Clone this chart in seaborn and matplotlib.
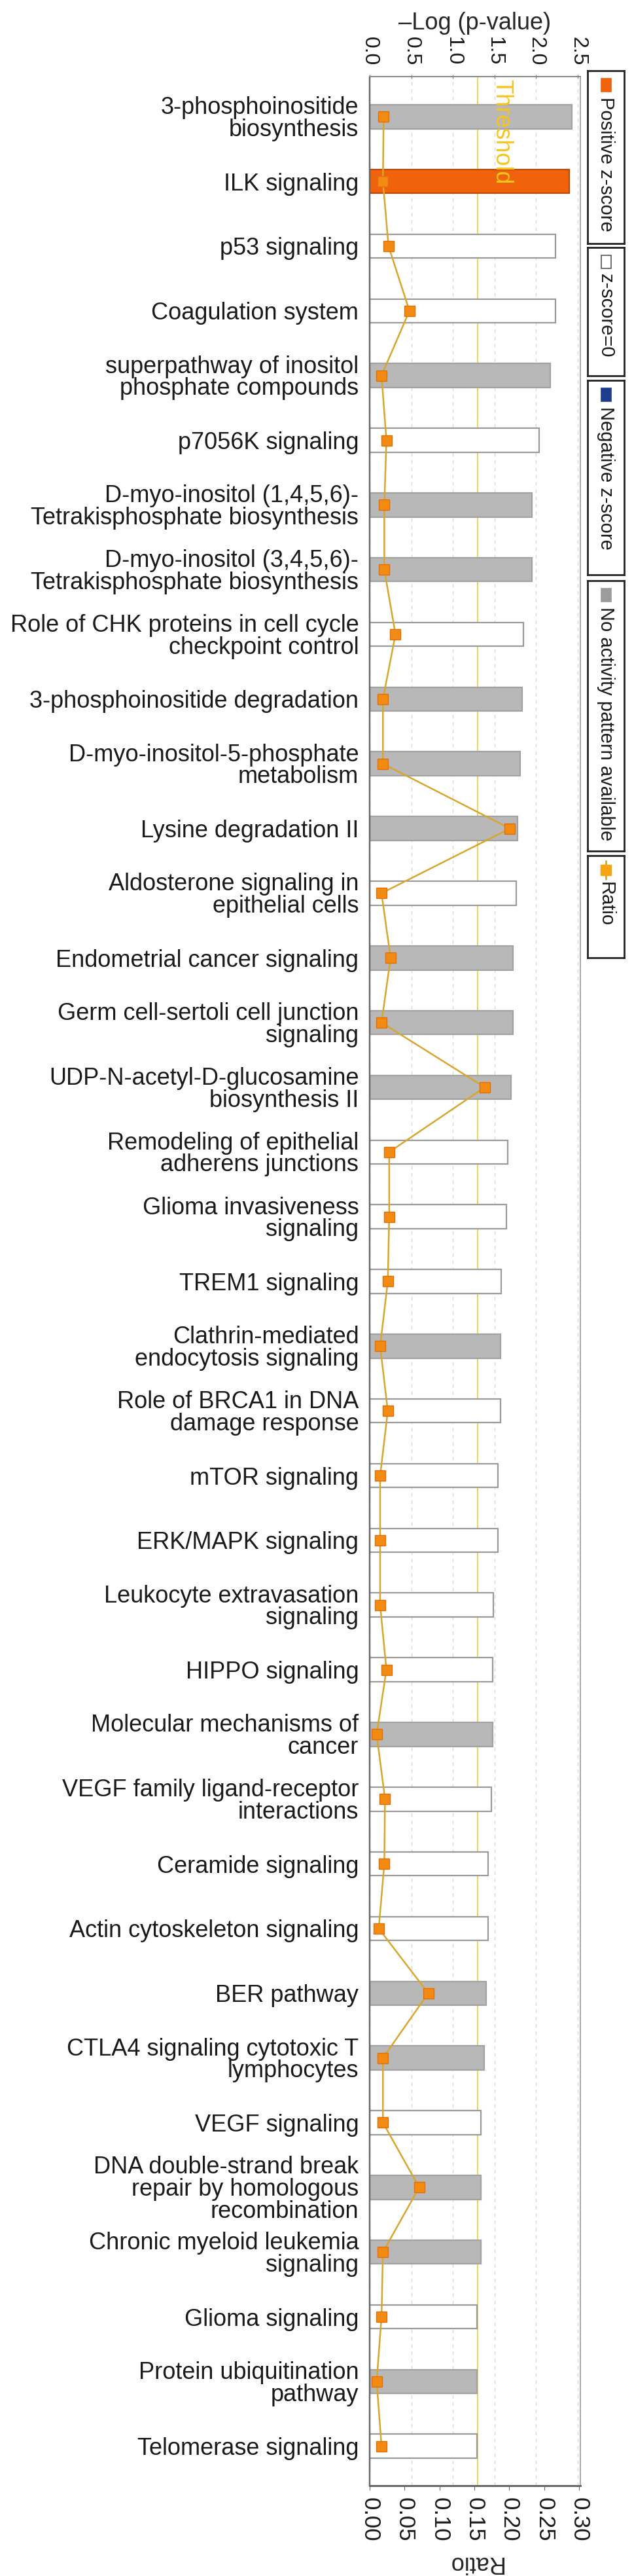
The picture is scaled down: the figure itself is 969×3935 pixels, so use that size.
import matplotlib
matplotlib.use('Agg')
import matplotlib.pyplot as plt
import matplotlib.colors as mcolors
from matplotlib.patches import Rectangle
import seaborn as sns
import pandas as pd
import numpy as np

# canonical pathways, top to bottom
pathways = [
    "3-phosphoinositide\nbiosynthesis",
    "ILK signaling",
    "p53 signaling",
    "Coagulation system",
    "superpathway of inositol\nphosphate compounds",
    "p7056K signaling",
    "D-myo-inositol (1,4,5,6)-\nTetrakisphosphate biosynthesis",
    "D-myo-inositol (3,4,5,6)-\nTetrakisphosphate biosynthesis",
    "Role of CHK proteins in cell cycle\ncheckpoint control",
    "3-phosphoinositide degradation",
    "D-myo-inositol-5-phosphate\nmetabolism",
    "Lysine degradation II",
    "Aldosterone signaling in\nepithelial cells",
    "Endometrial cancer signaling",
    "Germ cell-sertoli cell junction\nsignaling",
    "UDP-N-acetyl-D-glucosamine\nbiosynthesis II",
    "Remodeling of epithelial\nadherens junctions",
    "Glioma invasiveness\nsignaling",
    "TREM1 signaling",
    "Clathrin-mediated\nendocytosis signaling",
    "Role of BRCA1 in DNA\ndamage response",
    "mTOR signaling",
    "ERK/MAPK signaling",
    "Leukocyte extravasation\nsignaling",
    "HIPPO signaling",
    "Molecular mechanisms of\ncancer",
    "VEGF family ligand-receptor\ninteractions",
    "Ceramide signaling",
    "Actin cytoskeleton signaling",
    "BER pathway",
    "CTLA4 signaling cytotoxic T\nlymphocytes",
    "VEGF signaling",
    "DNA double-strand break\nrepair by homologous\nrecombination",
    "Chronic myeloid leukemia\nsignaling",
    "Glioma signaling",
    "Protein ubiquitination\npathway",
    "Telomerase signaling",
]

neg_log_p = [2.43, 2.40, 2.23, 2.23, 2.17, 2.04, 1.95, 1.95, 1.85, 1.83,
             1.81, 1.78, 1.76, 1.72, 1.72, 1.70, 1.66, 1.64, 1.58, 1.57,
             1.57, 1.54, 1.54, 1.49, 1.48, 1.48, 1.46, 1.42, 1.42, 1.40,
             1.38, 1.34, 1.34, 1.34, 1.29, 1.29, 1.29]

ratio = [0.020, 0.019, 0.027, 0.057, 0.017, 0.024, 0.021, 0.021, 0.037, 0.019,
         0.019, 0.201, 0.017, 0.030, 0.017, 0.165, 0.028, 0.028, 0.026, 0.015,
         0.026, 0.015, 0.015, 0.015, 0.024, 0.010, 0.022, 0.021, 0.013, 0.084,
         0.019, 0.019, 0.071, 0.019, 0.017, 0.010, 0.017]

N, P, Z = "No activity pattern available", "Positive z-score", "z-score=0"
status = [N, P, Z, Z, N, Z, N, N, Z, N,
          N, N, Z, N, N, N, Z, Z, Z, N,
          Z, Z, Z, Z, Z, N, Z, Z, Z, N,
          N, Z, N, N, Z, N, Z]

threshold = 1.3

legend_labels = ["Positive z-score", "z-score=0", "Negative z-score",
                 "No activity pattern available", "Ratio"]

sns.set_style('white')
plt.rcParams['font.family'] = ['Liberation Sans', 'DejaVu Sans']
plt.rcParams['text.color'] = '#1a1a1a'
plt.rcParams['xtick.color'] = '#1a1a1a'
plt.rcParams['ytick.color'] = '#1a1a1a'

df = pd.DataFrame({'pathway': pathways, 'logp': neg_log_p,
                   'ratio': ratio, 'status': status})
pos = np.arange(len(df))

orange = '#f0620c'
grey = '#b8b8b8'
fills = {P: orange, Z: '#ffffff', N: grey}
edges = {mcolors.to_hex(orange): '#b84a05', '#ffffff': '#9a9a9a',
         mcolors.to_hex(grey): '#a2a2a2'}
line_col = '#d8a62e'

W, H = 969, 3935
fig = plt.figure(figsize=(W / 100, H / 100), dpi=100)
ax = fig.add_axes([565 / W, 1 - 3797 / H, 322 / W, 3680 / H])
ax2 = ax.twiny()

ax.set_axisbelow(True)
ax.axvline(threshold, color='#ead24c', lw=1.3, zorder=0.8)

sns.barplot(data=df, x='logp', y='pathway', hue='status', palette=fills,
            dodge=False, width=0.37, orient='h', saturation=1, legend=False,
            linewidth=1.6, ax=ax)
for p in ax.patches:
    p.set_edgecolor(edges.get(mcolors.to_hex(p.get_facecolor()), '#9a9a9a'))

sns.lineplot(x=df['ratio'], y=pos, orient='y', sort=False, ax=ax2,
             color=line_col, linewidth=1.8, marker='s', markersize=11,
             markerfacecolor='#f38a12', markeredgecolor='#e2700a',
             markeredgewidth=1, zorder=5)

# top axis: -log(p)
ax.set_xlim(0, 2.532)
ax.xaxis.tick_top()
ax.xaxis.set_label_position('top')
ax.set_xticks([0, 0.5, 1.0, 1.5, 2.0, 2.5])
ax.set_xticklabels(['0.0', '0.5', '1.0', '1.5', '2.0', '2.5'], rotation=-90)
ax.tick_params(axis='x', labelsize=23, pad=10, length=4, direction='inout',
               color='#777777', top=True, bottom=False)
ax.set_xlabel('–Log (p-value)', fontsize=26, labelpad=8)
ax.grid(axis='x', color='#dadada', linestyle=(0, (4, 4)), lw=1)
ax.grid(axis='y', visible=False)

ax.set_yticks(pos)
ax.set_yticklabels(pathways)
ax.tick_params(axis='y', labelsize=26, pad=12, length=0)
for t in ax.get_yticklabels():
    t.set_linespacing(0.95)
ax.set_ylabel('')
ax.set_ylim(len(df) - 1 + 0.61, -0.62)

# bottom axis: ratio
ax2.set_xlim(0, 0.3019)
ax2.xaxis.tick_bottom()
ax2.xaxis.set_label_position('bottom')
ax2.set_xticks([0, 0.05, 0.10, 0.15, 0.20, 0.25, 0.30])
ax2.set_xticklabels(['0.00', '0.05', '0.10', '0.15', '0.20', '0.25', '0.30'],
                    rotation=-90)
ax2.tick_params(axis='x', labelsize=25, pad=8, length=5, color='#666666',
                bottom=True, top=False)
ax2.set_xlabel('Ratio', fontsize=26, rotation=180, labelpad=10)
ax2.set_ylabel('')
ax2.grid(False)

for a in (ax, ax2):
    a.spines['left'].set_color('#666666')
    a.spines['left'].set_linewidth(1.6)
    a.spines['top'].set_color('#888888')
    a.spines['top'].set_linewidth(1.4)
    a.spines['right'].set_color('#aaaaaa')
    a.spines['right'].set_linewidth(1.4)
    a.spines['bottom'].set_color('#666666')
    a.spines['bottom'].set_linewidth(2)

ax.text(threshold + 0.29, 0.999, 'Threshold', transform=ax.get_xaxis_transform(),
        rotation=-90, ha='center', va='top', fontsize=26, color='#f7c51a')

# legend: one framed box per entry, text running downwards
boxes = [(108, 372), (378, 574), (581, 878), (887, 1300), (1307, 1463)]
swatch = [orange, '#ffffff', '#1d3c8c', '#9c9c9c', None]
for lab, (y0, y1), col in zip(legend_labels, boxes, swatch):
    h = y1 - y0
    lax = fig.add_axes([898 / W, 1 - y1 / H, 56 / W, h / H])
    lax.set_xlim(0, 1)
    lax.set_ylim(h, 0)
    lax.set_xticks([])
    lax.set_yticks([])
    for s in lax.spines.values():
        s.set_color('#222222')
        s.set_linewidth(2)
    if col is None:
        lax.plot([0.5, 0.5], [8, 36], color=line_col, lw=2)
        lax.plot([0.5], [22], marker='s', markersize=11, color='#f5a511',
                 markeredgecolor='#f5a511')
    else:
        lax.add_patch(Rectangle((0.5 - 7.5 / 56, 12), 15 / 56, 20, facecolor=col,
                                edgecolor='#555555' if col == '#ffffff' else col,
                                lw=1.2))
    lax.text(0.5, 40, lab, rotation=-90, ha='center', va='top', fontsize=21,
             color='#1a1a1a')

fig.savefig('out.png', dpi=100)
